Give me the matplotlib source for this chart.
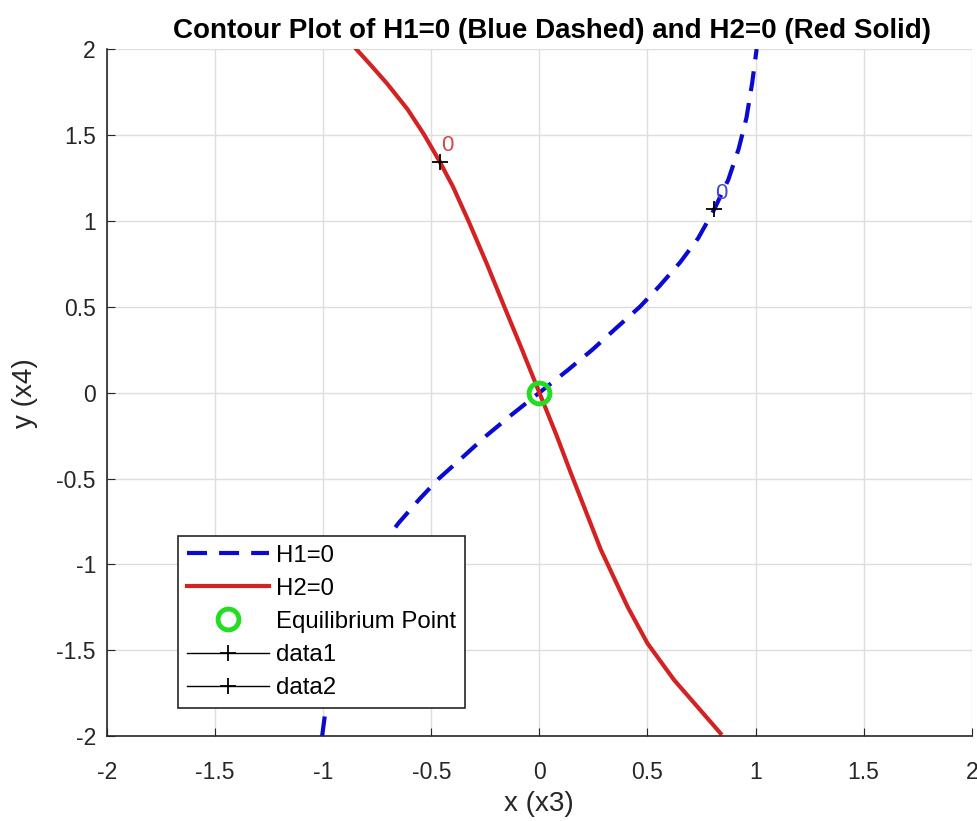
import matplotlib
matplotlib.use('Agg')
import matplotlib.pyplot as plt

plt.rcParams['font.family'] = ['Liberation Sans', 'DejaVu Sans']

# H1=0 curve (blue dashed)
h1_x = [-1.005, -0.984, -0.958, -0.922, -0.874, -0.808, -0.735, -0.652, -0.555,
        -0.465, -0.35, -0.245, -0.13, 0.0, 0.13, 0.245, 0.35, 0.465, 0.555,
        0.652, 0.735, 0.808, 0.874, 0.922, 0.958, 0.984, 1.005]
h1_y = [-2.0, -1.8, -1.6, -1.42, -1.24, -1.065, -0.9, -0.76, -0.62,
        -0.5, -0.37, -0.25, -0.13, 0.0, 0.13, 0.25, 0.37, 0.5, 0.62,
        0.76, 0.9, 1.065, 1.24, 1.42, 1.6, 1.8, 2.0]

# H2=0 curve (red solid)
h2_x = [-0.847, -0.775, -0.705, -0.61, -0.532, -0.461, -0.40, -0.328, -0.243,
        -0.162, -0.08, 0.0, 0.08, 0.146, 0.285, 0.408, 0.50, 0.623, 0.731, 0.838]
h2_y = [2.0, 1.9, 1.8, 1.65, 1.5, 1.345, 1.2, 1.0, 0.75,
        0.5, 0.25, 0.0, -0.25, -0.469, -0.916, -1.246, -1.459, -1.672, -1.828, -1.983]

# contour label markers (data1, data2)
lab1_x, lab1_y = [-0.461], [1.345]
lab2_x, lab2_y = [0.806], [1.067]
eq_x, eq_y = [0.0], [0.0]

fig = plt.figure(figsize=(9.78, 8.21), dpi=100)
ax = fig.add_axes([0.1094, 0.1032, 0.8842, 0.837])

ax.plot(h1_x, h1_y, color='#0a0ad2', lw=3, dashes=(4.8, 2.9), label='H1=0')
ax.plot(h2_x, h2_y, color='#d42222', lw=3, label='H2=0')
ax.plot(eq_x, eq_y, 'o', mfc='none', mec='#22dd22', ms=15, mew=3.5,
        label='Equilibrium Point')
ax.plot(lab1_x, lab1_y, '+', color='black', ms=12, mew=1.3, ls='-', lw=1,
        label='data1')
ax.plot(lab2_x, lab2_y, '+', color='black', ms=12, mew=1.3, ls='-', lw=1,
        label='data2')
ax.text(lab1_x[0] + 0.037, lab1_y[0] + 0.093, '0', color='#d04848',
        fontsize=16, ha='center', va='center')
ax.text(lab2_x[0] + 0.037, lab2_y[0] + 0.093, '0', color='#4848d4',
        fontsize=16, ha='center', va='center')

ax.set_xlim(-2, 2)
ax.set_ylim(-2, 2)
ticks = [-2, -1.5, -1, -0.5, 0, 0.5, 1, 1.5, 2]
tick_labels = ['-2', '-1.5', '-1', '-0.5', '0', '0.5', '1', '1.5', '2']
ax.set_xticks(ticks)
ax.set_yticks(ticks)
ax.set_xticklabels(tick_labels)
ax.set_yticklabels(tick_labels)
ax.tick_params(direction='in', length=6, labelsize=16.5, colors='#262626')
ax.tick_params(axis='x', pad=18)
ax.tick_params(axis='y', pad=8)
ax.grid(True, color='#dedede', lw=1)
ax.set_axisbelow(True)
for s in ['top', 'right']:
    ax.spines[s].set_visible(False)
for s in ['left', 'bottom']:
    ax.spines[s].set_color('#262626')
    ax.spines[s].set_linewidth(1.2)

ax.set_xlabel('x (x3)', fontsize=20, color='#262626', labelpad=5)
ax.set_ylabel('y (x4)', fontsize=20, color='#262626', labelpad=13)
ax.set_title('Contour Plot of H1=0 (Blue Dashed) and H2=0 (Red Solid)',
             fontsize=20, fontweight='bold', pad=8, x=0.515)

leg = ax.legend(loc='lower left', bbox_to_anchor=(0.082, 0.041),
                fontsize=17.3, frameon=True, fancybox=False, handlelength=3.4,
                handletextpad=0.3, labelspacing=0.46, borderpad=0.38,
                borderaxespad=0)
leg.get_frame().set_edgecolor('#262626')
leg.get_frame().set_linewidth(1.2)
leg.get_frame().set_alpha(1)

fig.savefig('out.png', dpi=100)
